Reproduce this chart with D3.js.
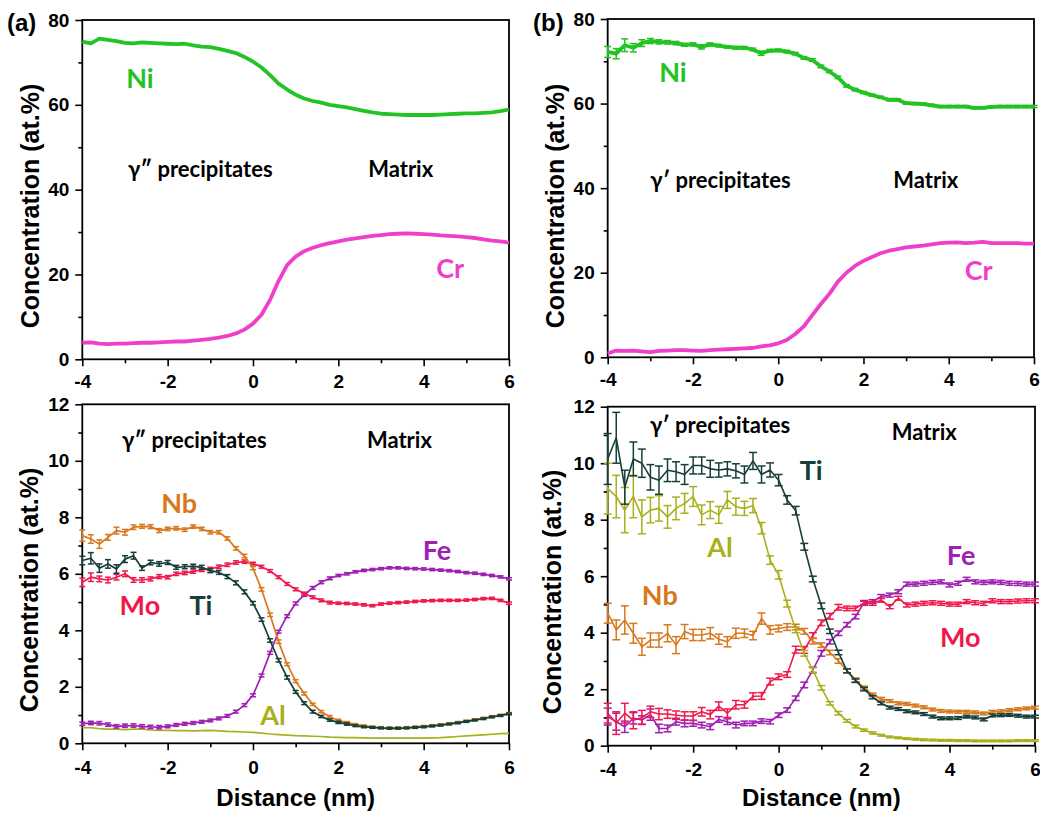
<!DOCTYPE html>
<html>
<head>
<meta charset="utf-8">
<script src="https://d3js.org/d3.v7.min.js"></script>
<style>
body { margin: 0; background: #fff; }
</style>
</head>
<body>
<div id="chart"></div>
<script>

// distance axis (nm), shared by every series
var dist = [-4,-3.8,-3.6,-3.4,-3.2,-3,-2.8,-2.6,-2.4,-2.2,
    -2,-1.8,-1.6,-1.4,-1.2,-1,-0.8,-0.6,-0.4,-0.2,
    0,0.2,0.4,0.6,0.8,1,1.2,1.4,1.6,1.8,
    2,2.2,2.4,2.6,2.8,3,3.2,3.4,3.6,3.8,
    4,4.2,4.4,4.6,4.8,5,5.2,5.4,5.6,5.8,
    6];

var xTicks = [-4,-2,0,2,4,6];
var xMinorTicks = [-3,-1,1,3,5];
var topTicks = [0,20,40,60,80];
var topMinorTicks = [10,30,50,70];
var botTicks = [0,2,4,6,8,10,12];
var botMinorTicks = [1,3,5,7,9,11];

// (a) gamma'' sample, major elements
var niA = [74.9,74.5,75.6,75.3,75.0,74.6,74.5,74.7,74.6,74.5,
    74.4,74.3,74.4,74.0,73.7,73.6,73.2,72.7,72.2,71.3,
    70.2,68.8,67.0,65.0,63.6,62.4,61.5,60.9,60.5,60.0,
    59.7,59.4,59.0,58.6,58.2,57.9,57.8,57.7,57.6,57.6,
    57.6,57.6,57.7,57.8,57.9,58.0,58.0,58.1,58.2,58.5,
    58.9];
var crA = [3.9,4.0,3.7,3.6,3.7,3.7,3.8,3.9,3.9,4.0,
    4.1,4.2,4.2,4.4,4.6,4.8,5.1,5.5,6.1,7.0,
    8.4,10.5,14.0,18.5,22.2,24.2,25.5,26.3,26.9,27.4,
    27.8,28.2,28.5,28.8,29.1,29.3,29.5,29.6,29.7,29.6,
    29.5,29.4,29.2,29.1,29.0,28.8,28.6,28.3,28.0,27.8,
    27.5];

// (b) gamma' sample, major elements
var niB = [72.2,71.8,73.8,73.2,74.3,74.8,74.6,74.5,74.3,73.9,
    74.0,73.4,74.0,73.7,73.4,73.2,73.2,72.8,71.9,72.5,
    72.6,72.3,71.8,70.8,70.3,68.8,67.6,66.2,64.2,63.3,
    62.6,62.0,61.5,60.9,60.9,60.1,60.0,59.9,59.6,59.3,
    59.3,59.3,59.3,59.0,59.0,59.2,59.3,59.3,59.3,59.3,
    59.3];
var errNiB = [1.3,1.2,1.5,1.0,0.8,0.6,0.5,0.4,0.4,0.35,
    0.35,0.5,0.35,0.3,0.3,0.3,0.3,0.3,0.5,0.3,
    0.3,0.3,0.3,0.3,0.3,0.3,0.3,0.3,0.3,0.3,
    0.25,0.25,0.25,0.25,0.25,0.25,0.25,0.25,0.25,0.25,
    0.25,0.25,0.25,0.25,0.25,0.25,0.25,0.25,0.25,0.25,
    0.25];
var crB = [0.9,1.6,1.5,1.6,1.4,1.2,1.5,1.6,1.7,1.7,
    1.6,1.5,1.7,1.8,1.9,2.0,2.1,2.2,2.6,2.8,
    3.3,4.1,5.5,7.3,10.0,12.6,15.0,17.9,20.0,21.6,
    22.8,23.7,24.6,25.2,25.6,26.0,26.2,26.4,26.7,27.0,
    27.1,27.2,27.0,27.1,27.3,27.0,27.0,27.0,27.0,26.9,
    26.9];

// (a) minor elements
var nbA = [7.35,7.23,7.05,7.29,7.53,7.47,7.65,7.68,7.67,7.53,
    7.59,7.61,7.56,7.67,7.59,7.47,7.47,7.25,6.9,6.63,
    6.2,5.45,4.55,3.6,2.8,2.2,1.76,1.38,1.12,0.94,
    0.81,0.73,0.67,0.62,0.58,0.56,0.55,0.55,0.56,0.58,
    0.6,0.63,0.66,0.7,0.74,0.79,0.84,0.89,0.95,1.0,
    1.06];
var errNbA = [0.2,0.15,0.15,0.1,0.12,0.1,0.08,0.07,0.07,0.07,
    0.06,0.06,0.06,0.06,0.06,0.06,0.06,0.06,0.06,0.06,
    0.06,0.06,0.06,0.06,0.05,0.05,0.05,0.04,0.04,0.04,
    0.04,0.04,0.03,0.03,0.03,0.03,0.03,0.03,0.03,0.03,
    0.03,0.03,0.03,0.03,0.03,0.03,0.03,0.03,0.03,0.03,
    0.03];
var tiA = [6.47,6.55,6.2,6.35,6.17,6.52,6.64,6.2,6.4,6.35,
    6.4,6.23,6.25,6.27,6.23,6.11,6.05,5.9,5.68,5.36,
    4.96,4.38,3.64,2.94,2.33,1.82,1.42,1.12,0.95,0.82,
    0.74,0.68,0.62,0.58,0.56,0.54,0.53,0.53,0.54,0.56,
    0.58,0.61,0.64,0.68,0.72,0.77,0.82,0.87,0.93,0.98,
    1.04];
var errTiA = [0.15,0.2,0.15,0.15,0.15,0.12,0.12,0.08,0.08,0.08,
    0.07,0.07,0.07,0.07,0.07,0.07,0.07,0.07,0.07,0.07,
    0.06,0.06,0.06,0.06,0.06,0.05,0.05,0.05,0.04,0.04,
    0.04,0.04,0.03,0.03,0.03,0.03,0.03,0.03,0.03,0.03,
    0.03,0.03,0.03,0.03,0.03,0.03,0.03,0.03,0.03,0.03,
    0.03];
var moA = [5.7,5.88,5.82,5.78,5.88,6.0,5.78,5.78,5.82,5.9,
    5.88,6.0,6.03,6.08,6.14,6.17,6.25,6.32,6.4,6.43,
    6.36,6.25,6.1,5.88,5.64,5.45,5.3,5.17,5.06,4.98,
    4.96,4.95,4.93,4.9,4.87,4.93,4.96,4.98,5.0,5.02,
    5.04,5.05,5.06,5.06,5.06,5.07,5.09,5.12,5.13,5.06,
    4.96];
var errMoA = [0.15,0.15,0.1,0.1,0.1,0.1,0.08,0.08,0.07,0.07,
    0.06,0.06,0.06,0.06,0.06,0.06,0.06,0.06,0.06,0.06,
    0.05,0.05,0.05,0.05,0.05,0.05,0.05,0.05,0.05,0.05,
    0.04,0.04,0.04,0.04,0.04,0.04,0.04,0.04,0.04,0.04,
    0.04,0.04,0.04,0.04,0.04,0.04,0.04,0.04,0.04,0.04,
    0.04];
var feA = [0.69,0.72,0.71,0.66,0.6,0.62,0.63,0.6,0.58,0.57,
    0.6,0.65,0.69,0.72,0.76,0.81,0.88,0.97,1.12,1.35,
    1.7,2.4,3.2,3.95,4.5,4.95,5.25,5.5,5.7,5.84,
    5.94,6.0,6.07,6.12,6.15,6.18,6.21,6.21,6.19,6.18,
    6.17,6.15,6.13,6.11,6.08,6.04,6.02,5.98,5.94,5.89,
    5.82];
var errFeA = [0.06,0.06,0.06,0.06,0.06,0.06,0.06,0.06,0.06,0.06,
    0.05,0.05,0.05,0.05,0.05,0.05,0.05,0.05,0.05,0.05,
    0.05,0.05,0.05,0.05,0.05,0.05,0.05,0.05,0.05,0.05,
    0.04,0.04,0.04,0.04,0.04,0.04,0.04,0.04,0.04,0.04,
    0.04,0.04,0.04,0.04,0.04,0.04,0.04,0.04,0.04,0.04,
    0.04];
var alA = [0.55,0.55,0.52,0.5,0.5,0.48,0.5,0.5,0.47,0.46,
    0.46,0.45,0.45,0.44,0.45,0.46,0.44,0.42,0.41,0.4,
    0.39,0.36,0.33,0.31,0.29,0.27,0.26,0.25,0.24,0.22,
    0.21,0.2,0.2,0.19,0.18,0.18,0.18,0.18,0.18,0.18,
    0.18,0.19,0.2,0.22,0.24,0.26,0.28,0.3,0.32,0.34,
    0.35];

// (b) minor elements
var tiB = [10.15,10.9,9.15,10.15,10.0,9.5,9.4,9.75,9.7,9.6,
    9.92,9.92,9.8,9.76,9.8,9.73,9.6,10.08,9.6,9.76,
    9.4,8.7,8.32,7.04,5.9,4.95,4.05,3.3,2.65,2.3,
    2.0,1.72,1.5,1.35,1.3,1.22,1.18,1.12,1.03,0.97,
    0.97,0.98,1.03,1.0,0.93,1.07,1.08,1.09,1.06,1.03,
    1.03];
var errTiB = [0.9,0.9,0.6,0.6,0.5,0.45,0.5,0.4,0.35,0.35,
    0.3,0.3,0.3,0.25,0.25,0.25,0.3,0.3,0.3,0.25,
    0.2,0.15,0.15,0.12,0.1,0.1,0.08,0.08,0.07,0.06,
    0.06,0.06,0.05,0.05,0.05,0.05,0.05,0.05,0.05,0.05,
    0.05,0.05,0.05,0.05,0.05,0.05,0.05,0.05,0.05,0.05,
    0.05];
var alB = [9.1,8.82,8.34,8.82,8.1,8.34,8.4,8.1,8.4,8.58,
    8.82,8.17,8.34,8.17,8.7,8.46,8.4,8.5,7.7,6.57,
    6.05,5.03,4.1,3.27,2.68,2.05,1.5,1.15,0.88,0.68,
    0.55,0.45,0.37,0.31,0.28,0.25,0.23,0.21,0.2,0.19,
    0.19,0.18,0.18,0.17,0.17,0.17,0.17,0.17,0.18,0.18,
    0.18];
var errAlB = [0.9,0.75,0.8,0.75,0.6,0.45,0.45,0.4,0.4,0.35,
    0.35,0.35,0.3,0.3,0.3,0.3,0.25,0.25,0.2,0.15,
    0.15,0.12,0.1,0.1,0.08,0.08,0.06,0.06,0.05,0.05,
    0.04,0.04,0.03,0.03,0.03,0.03,0.03,0.03,0.03,0.03,
    0.03,0.03,0.03,0.03,0.03,0.03,0.03,0.03,0.03,0.03,
    0.03];
var nbB = [4.69,4.1,4.45,3.98,3.5,3.74,3.74,3.98,3.56,4.04,
    3.92,3.92,3.98,3.77,3.68,3.98,3.98,3.9,4.5,4.1,
    4.15,4.2,4.2,4.05,3.7,3.56,3.3,3.0,2.65,2.33,
    2.05,1.8,1.66,1.58,1.5,1.48,1.42,1.36,1.28,1.23,
    1.21,1.2,1.2,1.18,1.14,1.2,1.22,1.26,1.29,1.32,
    1.35];
var errNbB = [0.35,0.35,0.5,0.35,0.3,0.25,0.25,0.3,0.3,0.25,
    0.2,0.2,0.2,0.18,0.18,0.18,0.15,0.15,0.2,0.15,
    0.12,0.12,0.1,0.1,0.1,0.08,0.08,0.08,0.07,0.07,
    0.06,0.06,0.05,0.05,0.05,0.05,0.05,0.05,0.05,0.05,
    0.05,0.05,0.05,0.05,0.05,0.05,0.05,0.05,0.05,0.05,
    0.05];
var moB = [1.15,0.8,1.15,0.9,1.0,1.2,1.12,1.12,1.08,1.05,
    1.05,1.2,1.1,1.4,1.15,1.45,1.45,1.75,1.76,2.27,
    2.44,2.52,3.4,3.39,3.9,4.35,4.58,4.9,4.86,4.86,
    5.04,5.04,5.15,4.92,5.22,4.98,5.01,5.04,5.06,5.04,
    5.01,5.01,5.1,5.06,5.04,5.13,5.1,5.1,5.12,5.13,
    5.13];
var errMoB = [0.35,0.4,0.35,0.3,0.25,0.2,0.2,0.15,0.15,0.15,
    0.15,0.15,0.15,0.15,0.15,0.15,0.12,0.12,0.12,0.12,
    0.1,0.1,0.12,0.12,0.1,0.1,0.1,0.1,0.08,0.08,
    0.07,0.07,0.07,0.07,0.07,0.07,0.07,0.07,0.07,0.07,
    0.07,0.07,0.07,0.07,0.07,0.07,0.07,0.07,0.07,0.07,
    0.07];
var feB = [1.03,0.85,0.67,0.97,0.91,1.1,0.61,0.61,0.85,0.79,
    0.79,0.73,0.67,0.93,0.85,0.73,0.79,0.79,0.87,0.85,
    1.08,1.26,1.68,2.15,2.68,3.27,3.68,3.98,4.28,4.57,
    5.07,5.1,5.28,5.33,5.45,5.72,5.72,5.75,5.78,5.8,
    5.69,5.75,5.89,5.8,5.78,5.8,5.78,5.75,5.74,5.72,
    5.72];
var errFeB = [0.3,0.3,0.2,0.2,0.15,0.2,0.15,0.12,0.12,0.12,
    0.1,0.1,0.1,0.1,0.1,0.1,0.08,0.08,0.08,0.08,
    0.08,0.08,0.08,0.1,0.1,0.1,0.08,0.08,0.08,0.08,
    0.07,0.07,0.07,0.07,0.07,0.07,0.07,0.07,0.07,0.07,
    0.07,0.07,0.07,0.07,0.07,0.07,0.07,0.07,0.07,0.07,
    0.07];

var colors = {
    Ni: "#22c322", Cr: "#ef3fca", Nb: "#d8781c", Ti: "#173f3a",
    Mo: "#f0184a", Fe: "#9f1fb3", Al: "#a8b01c"
};

var labelFont = "Lato, 'Noto Sans', sans-serif";
var axisFont = "'Liberation Sans', Arial, sans-serif";

var svg = d3.select("#chart").append("svg")
    .attr("width", 1040)
    .attr("height", 813);

svg.append("rect")
    .attr("width", 1040)
    .attr("height", 813)
    .attr("fill", "#fff");

function createPanel(box, yMax, yTicks, yMinor) {
    var x = d3.scaleLinear().domain([-4, 6]).range([box.left, box.right]);
    var y = d3.scaleLinear().domain([0, yMax]).range([box.bottom, box.top]);
    var g = svg.append("g");

    var xg = g.append("g").attr("transform", "translate(0," + box.bottom + ")");
    xg.call(d3.axisBottom(x).tickValues(xTicks).tickSize(7).tickPadding(box.xPad)
        .tickFormat(function(d){ return String(d); }));
    xg.append("g").call(d3.axisBottom(x).tickValues(xMinorTicks).tickSize(4).tickFormat(""));

    var yg = g.append("g").attr("transform", "translate(" + box.left + ",0)");
    yg.call(d3.axisLeft(y).tickValues(yTicks).tickSize(7).tickPadding(6)
        .tickFormat(function(d){ return String(d); }));
    yg.append("g").call(d3.axisLeft(y).tickValues(yMinor).tickSize(4).tickFormat(""));

    g.selectAll(".domain").remove();
    g.selectAll(".tick line")
        .attr("stroke", "#000")
        .attr("stroke-width", 1.6);
    g.selectAll(".tick text")
        .attr("fill", "#000")
        .style("font-family", axisFont)
        .style("font-weight", "bold")
        .style("font-size", "19px");

    g.append("rect")
        .attr("x", box.left)
        .attr("y", box.top)
        .attr("width", box.right - box.left)
        .attr("height", box.bottom - box.top)
        .attr("fill", "none")
        .attr("stroke", "#000")
        .attr("stroke-width", 1.8);

    // y title
    g.append("text")
        .attr("transform", "translate(" + box.titleX + "," + box.titleY + ") rotate(-90)")
        .attr("text-anchor", "middle")
        .attr("dy", "0.36em")
        .style("font-family", axisFont)
        .style("font-weight", "bold")
        .style("font-size", "25px")
        .text("Concentration (at.%)");

    var layer = g.append("g");
    return {x: x, y: y, g: layer, box: box};
}

function drawSeries(panel, values, errs, color, width, cap) {
    var x = panel.x, y = panel.y;
    var pts = values.map(function(v, i){ return {d: dist[i], v: v, e: errs ? errs[i] : 0}; });

    var line = d3.line()
        .x(function(p){ return x(p.d); })
        .y(function(p){ return y(p.v); });

    panel.g.append("path")
        .datum(pts)
        .attr("d", line)
        .attr("fill", "none")
        .attr("stroke", color)
        .attr("stroke-width", width)
        .attr("stroke-linejoin", "round");

    if (!errs) return;

    var bars = panel.g.append("g")
        .attr("stroke", color)
        .attr("stroke-width", 1.5)
        .selectAll("g")
        .data(pts)
        .enter().append("g");

    bars.append("line")
        .attr("x1", function(p){ return x(p.d); })
        .attr("x2", function(p){ return x(p.d); })
        .attr("y1", function(p){ return y(p.v - p.e); })
        .attr("y2", function(p){ return y(p.v + p.e); });
    bars.append("line")
        .attr("x1", function(p){ return x(p.d) - cap / 2; })
        .attr("x2", function(p){ return x(p.d) + cap / 2; })
        .attr("y1", function(p){ return y(p.v + p.e); })
        .attr("y2", function(p){ return y(p.v + p.e); });
    bars.append("line")
        .attr("x1", function(p){ return x(p.d) - cap / 2; })
        .attr("x2", function(p){ return x(p.d) + cap / 2; })
        .attr("y1", function(p){ return y(p.v - p.e); })
        .attr("y2", function(p){ return y(p.v - p.e); });
}

function addLabel(panel, txt, xv, yv, color, size, anchor) {
    panel.g.append("text")
        .attr("x", panel.x(xv))
        .attr("y", panel.y(yv))
        .attr("text-anchor", anchor || "middle")
        .attr("fill", color)
        .style("font-family", labelFont)
        .style("font-weight", "bold")
        .style("font-size", size + "px")
        .text(txt);
}

function addXTitle(panel) {
    var b = panel.box;
    panel.g.append("text")
        .attr("x", (b.left + b.right) / 2)
        .attr("y", 806)
        .attr("text-anchor", "middle")
        .style("font-family", axisFont)
        .style("font-weight", "bold")
        .style("font-size", "24px")
        .text("Distance (nm)");
}

var topA = createPanel({left: 82.3, right: 509, top: 20, bottom: 359.3, xPad: 8, titleX: 30, titleY: 206}, 80, topTicks, topMinorTicks);
var topB = createPanel({left: 607.7, right: 1034, top: 19, bottom: 357.3, xPad: 8, titleX: 555, titleY: 206}, 80, topTicks, topMinorTicks);
var botA = createPanel({left: 82.3, right: 509, top: 404.3, bottom: 743.3, xPad: 10, titleX: 29, titleY: 590}, 12, botTicks, botMinorTicks);
var botB = createPanel({left: 607.7, right: 1035, top: 406.7, bottom: 745.7, xPad: 10, titleX: 552, titleY: 592}, 12, botTicks, botMinorTicks);

// (a) top
drawSeries(topA, niA, null, colors.Ni, 3.8, 0);
drawSeries(topA, crA, null, colors.Cr, 3.8, 0);
addLabel(topA, "Ni", -2.65, 64, colors.Ni, 27);
addLabel(topA, "Cr", 4.62, 19.2, colors.Cr, 27);
addLabel(topA, "\u03b3\u2033 precipitates", -2.93, 43, "#000", 22, "start");
addLabel(topA, "Matrix", 2.7, 43, "#000", 22, "start");

// (b) top
drawSeries(topB, niB, errNiB, colors.Ni, 3.8, 7);
drawSeries(topB, crB, null, colors.Cr, 3.8, 0);
addLabel(topB, "Ni", -2.47, 65.1, colors.Ni, 27);
addLabel(topB, "Cr", 4.7, 18.3, colors.Cr, 27);
addLabel(topB, "\u03b3\u2032 precipitates", -3.0, 40, "#000", 22, "start");
addLabel(topB, "Matrix", 2.7, 40, "#000", 22, "start");

// (a) bottom
drawSeries(botA, alA, null, colors.Al, 1.7, 0);
drawSeries(botA, feA, errFeA, colors.Fe, 1.7, 6);
drawSeries(botA, moA, errMoA, colors.Mo, 1.7, 6);
drawSeries(botA, nbA, errNbA, colors.Nb, 1.7, 6);
drawSeries(botA, tiA, errTiA, colors.Ti, 1.7, 6);
addLabel(botA, "\u03b3\u2033 precipitates", -3.07, 10.45, "#000", 22, "start");
addLabel(botA, "Matrix", 2.67, 10.45, "#000", 22, "start");
addLabel(botA, "Nb", -1.73, 8.15, colors.Nb, 27);
addLabel(botA, "Mo", -2.65, 4.54, colors.Mo, 27);
addLabel(botA, "Ti", -1.22, 4.54, colors.Ti, 27);
addLabel(botA, "Fe", 4.31, 6.49, colors.Fe, 27);
addLabel(botA, "Al", 0.47, 0.65, colors.Al, 27);
addXTitle(botA);

// (b) bottom
drawSeries(botB, feB, errFeB, colors.Fe, 1.6, 8);
drawSeries(botB, moB, errMoB, colors.Mo, 1.6, 8);
drawSeries(botB, nbB, errNbB, colors.Nb, 1.6, 8);
drawSeries(botB, alB, errAlB, colors.Al, 1.6, 8);
drawSeries(botB, tiB, errTiB, colors.Ti, 1.6, 8);
addLabel(botB, "\u03b3\u2032 precipitates", -3.01, 11.07, "#000", 22, "start");
addLabel(botB, "Matrix", 2.65, 10.82, "#000", 22, "start");
addLabel(botB, "Ti", 0.76, 9.41, colors.Ti, 27);
addLabel(botB, "Al", -1.37, 6.68, colors.Al, 27);
addLabel(botB, "Nb", -2.78, 4.98, colors.Nb, 27);
addLabel(botB, "Fe", 4.27, 6.4, colors.Fe, 27);
addLabel(botB, "Mo", 4.25, 3.49, colors.Mo, 27);
addXTitle(botB);

// panel letters
svg.append("text").attr("x", 7).attr("y", 31)
    .style("font-family", axisFont).style("font-weight", "bold").style("font-size", "24px")
    .text("(a)");
svg.append("text").attr("x", 533).attr("y", 31)
    .style("font-family", axisFont).style("font-weight", "bold").style("font-size", "24px")
    .text("(b)");

</script>
</body>
</html>
